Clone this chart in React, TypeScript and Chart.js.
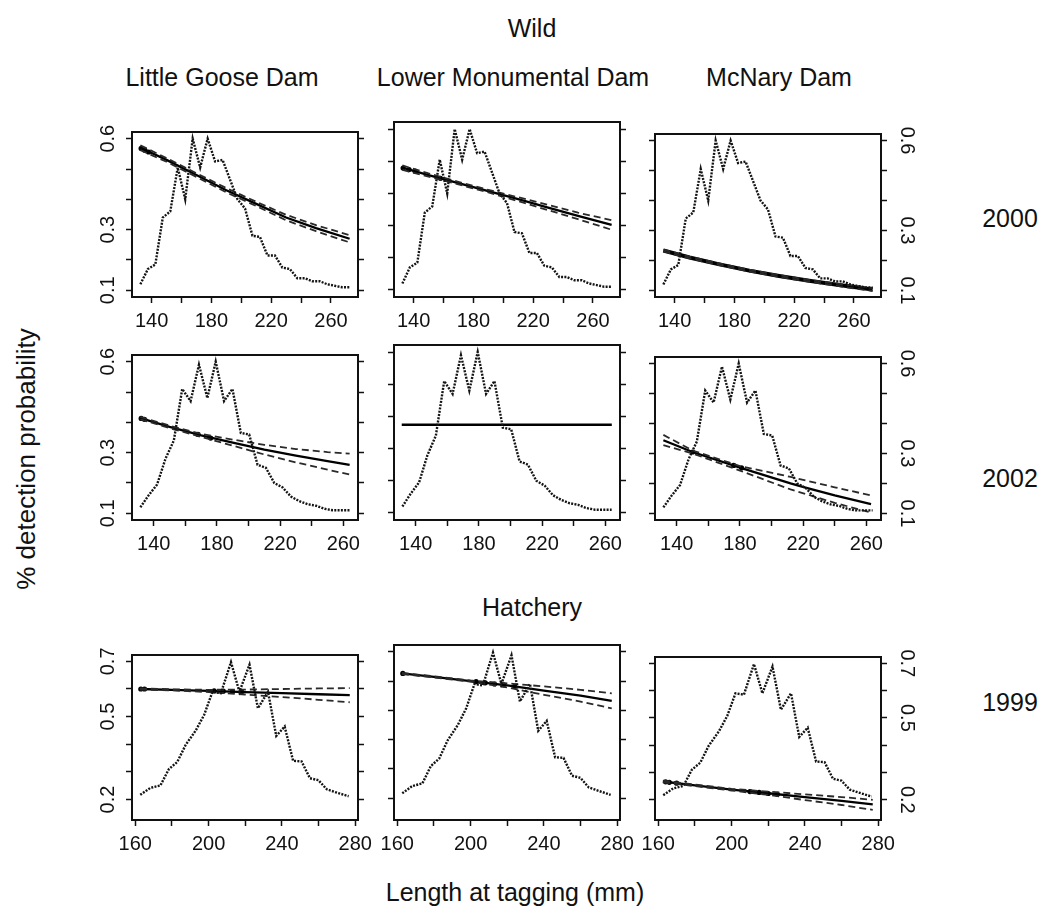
import React, { useEffect, useRef } from "react";
import { Chart, registerables } from "chart.js";
Chart.register(...registerables);

const FONT = '"Liberation Sans", Arial, Helvetica, sans-serif';

// ---------- data ----------
const DAMS = ["Little Goose Dam", "Lower Monumental Dam", "McNary Dam"];
const YEARS = ["2000", "2002", "1999"];

// length-frequency profiles (scaled to the panel's y axis)
const WILD2000_LEN = [132.5, 137.5, 142.5, 147.5, 152.5, 157.5, 162.5, 167.5, 172.5, 177.5, 182.5, 187.5, 192.5, 197.5, 202.5, 207.5, 212.5, 217.5, 222.5, 227.5, 232.5, 237.5, 242.5, 247.5, 252.5, 257.5, 262.5, 267.5, 272.5];
const WILD2000_FREQ = [0.12, 0.17, 0.185, 0.34, 0.36, 0.505, 0.4, 0.6, 0.505, 0.6, 0.525, 0.53, 0.465, 0.4, 0.37, 0.28, 0.276, 0.215, 0.215, 0.175, 0.17, 0.14, 0.14, 0.13, 0.13, 0.12, 0.115, 0.11, 0.11];

const WILD2002_LEN = [131.5, 136.8, 142.1, 147.4, 152.7, 158.0, 163.3, 168.6, 173.9, 179.2, 184.5, 189.8, 195.1, 200.4, 205.7, 211.0, 216.3, 221.6, 226.9, 232.2, 237.5, 242.8, 248.1, 253.4, 258.7, 264.0];
const WILD2002_FREQ = [0.12, 0.16, 0.195, 0.28, 0.34, 0.51, 0.47, 0.59, 0.48, 0.6, 0.47, 0.51, 0.365, 0.36, 0.26, 0.25, 0.2, 0.185, 0.155, 0.14, 0.13, 0.125, 0.115, 0.11, 0.11, 0.11];

const HATCH_LEN = [162.7, 168.2, 173.7, 178.3, 182.9, 187.5, 193.0, 197.6, 202.1, 206.7, 212.2, 216.8, 222.3, 226.9, 232.4, 236.9, 241.5, 246.1, 250.7, 255.3, 259.9, 264.5, 270.0, 276.4];
const HATCH_FREQ = [0.217, 0.242, 0.251, 0.31, 0.336, 0.398, 0.45, 0.507, 0.59, 0.585, 0.697, 0.59, 0.688, 0.53, 0.59, 0.43, 0.464, 0.34, 0.338, 0.277, 0.27, 0.237, 0.225, 0.212];

// fitted detection probability (solid) and confidence bounds (dashed)
const FIT2000_X = [132.5, 150, 170, 190, 210, 230, 250, 272.5];
const LGD2000_FIT = [0.57, 0.53, 0.48, 0.43, 0.385, 0.34, 0.305, 0.27];
const LGD2000_UP = [0.578, 0.536, 0.486, 0.437, 0.392, 0.349, 0.315, 0.282];
const LGD2000_LO = [0.562, 0.524, 0.474, 0.423, 0.378, 0.331, 0.295, 0.258];
const LMD2000_FIT = [0.48, 0.457, 0.432, 0.407, 0.382, 0.356, 0.33, 0.302];
const LMD2000_UP = [0.487, 0.462, 0.436, 0.411, 0.388, 0.364, 0.34, 0.317];
const LMD2000_LO = [0.473, 0.452, 0.428, 0.403, 0.376, 0.348, 0.32, 0.287];
const MCN2000_FIT = [0.233, 0.21, 0.187, 0.166, 0.148, 0.132, 0.118, 0.103];
const MCN2000_UP = [0.236, 0.213, 0.19, 0.169, 0.151, 0.135, 0.122, 0.108];
const MCN2000_LO = [0.23, 0.207, 0.184, 0.163, 0.145, 0.129, 0.114, 0.098];

const LGD2002_X = [131.5, 150, 170, 190, 210, 230, 250, 264];
const LGD2002_FIT = [0.414, 0.385, 0.357, 0.333, 0.31, 0.29, 0.272, 0.26];
const LGD2002_UP = [0.418, 0.389, 0.362, 0.343, 0.326, 0.312, 0.302, 0.297];
const LGD2002_LO = [0.41, 0.381, 0.352, 0.323, 0.294, 0.268, 0.244, 0.228];
const LMD2002_X = [131.1, 264.1];
const LMD2002_FIT = [0.374, 0.374];
const MCN2002_X = [131.5, 150, 180, 212, 221.5, 240, 263];
const MCN2002_FIT = [0.344, 0.305, 0.253, 0.2, 0.186, 0.16, 0.131];
const MCN2002_UP = [0.362, 0.31, 0.258, 0.222, 0.21, 0.187, 0.16];
const MCN2002_LO = [0.328, 0.3, 0.243, 0.18, 0.165, 0.135, 0.103];

const HATCH_X = [162.5, 180, 200, 220, 240, 260, 277];
const LGD1999_FIT = [0.6, 0.597, 0.593, 0.589, 0.585, 0.581, 0.578];
const LGD1999_UP = [0.602, 0.599, 0.597, 0.598, 0.6, 0.602, 0.603];
const LGD1999_LO = [0.598, 0.595, 0.589, 0.58, 0.571, 0.561, 0.552];
const LMD1999_FIT = [0.626, 0.614, 0.6, 0.585, 0.567, 0.55, 0.532];
const LMD1999_UP = [0.628, 0.616, 0.602, 0.592, 0.582, 0.57, 0.558];
const LMD1999_LO = [0.624, 0.612, 0.598, 0.578, 0.553, 0.53, 0.507];
const MCN1999_FIT = [0.267, 0.253, 0.237, 0.224, 0.21, 0.196, 0.183];
const MCN1999_UP = [0.27, 0.256, 0.24, 0.23, 0.22, 0.21, 0.2];
const MCN1999_LO = [0.264, 0.25, 0.234, 0.218, 0.199, 0.181, 0.163];

// observed estimates (bold dots on the fit)
const LGD2000_OBS_X = [133, 135.5, 138];
const LGD2000_OBS_Y = [0.568, 0.562, 0.556];
const LMD2000_OBS_X = [133, 137, 141, 158];
const LMD2000_OBS_Y = [0.479, 0.474, 0.469, 0.447];
const LGD2002_OBS_X = [132, 134, 168, 176];
const LGD2002_OBS_Y = [0.413, 0.41, 0.36, 0.348];
const MCN2002_OBS_X = [150, 176, 181];
const MCN2002_OBS_Y = [0.305, 0.26, 0.252];
const LGD1999_OBS_X = [163, 165, 203, 208, 213, 218];
const LGD1999_OBS_Y = [0.6, 0.6, 0.593, 0.592, 0.591, 0.59];
const LMD1999_OBS_X = [163, 203, 208, 213, 218, 224];
const LMD1999_OBS_Y = [0.626, 0.598, 0.594, 0.59, 0.587, 0.582];
const MCN1999_OBS_X = [164, 166, 170, 210, 215, 220, 225];
const MCN1999_OBS_Y = [0.266, 0.264, 0.261, 0.23, 0.227, 0.223, 0.22];

// axes
const WILD_X_TICKS = [140, 160, 180, 200, 220, 240, 260];
const WILD_X_LABELS = [140, 180, 220, 260];
const HATCH_X_TICKS = [160, 180, 200, 220, 240, 260, 280];
const HATCH_X_LABELS = [160, 200, 240, 280];
const WILD_Y_TICKS = [0.1, 0.2, 0.3, 0.4, 0.5, 0.6];
const WILD_Y_LABELS = [0.1, 0.3, 0.6];
const HATCH_Y_TICKS = [0.2, 0.3, 0.4, 0.5, 0.6, 0.7];
const HATCH_Y_LABELS = [0.2, 0.5, 0.7];

// ---------- layout ----------
const COLS = [[132, 358], [394, 620], [655, 881]];
const ROWS = [[122, 297], [345, 520], [645, 820]];
const PAD_L = 50, PAD_R = 50, PAD_T = 6, PAD_B = 46;

const pts = (xs: number[], ys: number[]) => xs.map((x, i) => ({ x, y: ys[i] }));

const dotted = (xs: number[], ys: number[]) => ({
  data: pts(xs, ys), borderColor: "#141414", borderWidth: 2.4, borderDash: [2, 1.3], pointRadius: 0, fill: false,
});
const dashed = (xs: number[], ys: number[]) => ({
  data: pts(xs, ys), borderColor: "#2a2a2a", borderWidth: 1.8, borderDash: [7, 4], pointRadius: 0, fill: false,
});
const solid = (xs: number[], ys: number[], w = 2.3) => ({
  data: pts(xs, ys), borderColor: "#000", borderWidth: w, pointRadius: 0, fill: false,
});
const dots = (xs: number[], ys: number[]) => ({
  data: pts(xs, ys), showLine: false, pointRadius: 2.6, pointBackgroundColor: "#000", pointBorderWidth: 0, borderColor: "#000",
});

const boxPlugin = {
  id: "box",
  afterDraw(chart: any) {
    const { ctx, chartArea } = chart;
    ctx.save();
    ctx.strokeStyle = "#111";
    ctx.lineWidth = 2;
    ctx.strokeRect(chartArea.left, chartArea.top, chartArea.right - chartArea.left, chartArea.bottom - chartArea.top);
    ctx.restore();
  },
};

type PanelProps = {
  row: number; col: number; datasets: any[];
  xMin: number; xMax: number; xTicks: number[]; xLabels: number[];
  yMin: number; yMax: number; yTicks: number[]; yLabels: number[];
};

function Panel(p: PanelProps) {
  const ref = useRef<HTMLCanvasElement>(null);
  const [bl, br] = COLS[p.col];
  const [bt, bb] = ROWS[p.row];
  const w = br - bl + PAD_L + PAD_R;
  const h = bb - bt + PAD_T + PAD_B;
  useEffect(() => {
    const grid = { drawOnChartArea: false, drawTicks: true, tickLength: 6, tickWidth: 1.5, tickColor: "#111" };
    const yAxis = (pos: string, showLabels: boolean, rot: number, pad: number, width: number) => ({
      type: "linear", position: pos, min: p.yMin, max: p.yMax,
      afterBuildTicks: (s: any) => { s.ticks = p.yTicks.map((v) => ({ value: v })); },
      afterFit: (s: any) => { s.width = width; },
      grid, border: { display: false },
      ticks: {
        display: showLabels, autoSkip: false, minRotation: rot, maxRotation: rot, crossAlign: "center", padding: pad,
        color: "#111", font: { family: FONT, size: 20 },
        callback: (v: number) => (p.yLabels.includes(v) ? String(v) : ""),
      },
    });
    const chart = new Chart(ref.current!, {
      type: "line",
      data: { datasets: p.datasets },
      plugins: [boxPlugin],
      options: {
        animation: false, responsive: false, maintainAspectRatio: false, events: [],
        layout: { padding: { top: PAD_T, left: 0, right: 0, bottom: 0 } },
        plugins: { legend: { display: false }, tooltip: { enabled: false }, title: { display: false } },
        scales: {
          x: {
            type: "linear", position: "bottom", min: p.xMin, max: p.xMax,
            afterBuildTicks: (s: any) => { s.ticks = p.xTicks.map((v) => ({ value: v })); },
            afterFit: (s: any) => { s.height = PAD_B; },
            grid, border: { display: false },
            ticks: {
              autoSkip: false, maxRotation: 0, minRotation: 0, padding: 6, color: "#111",
              font: { family: FONT, size: 20 },
              callback: (v: number) => (p.xLabels.includes(v) ? String(v) : ""),
            },
          },
          y: yAxis("left", p.col === 0, 90, 4, PAD_L) as any,
          y2: yAxis("right", p.col === 2, -90, 6, PAD_R) as any,
        },
      } as any,
    });
    return () => chart.destroy();
  }, []);
  return (
    <canvas
      ref={ref}
      width={w}
      height={h}
      style={{ position: "absolute", left: bl - PAD_L, top: bt - PAD_T, width: w, height: h }}
    />
  );
}

const Label = ({ x, y, text, size = 25, rotate = 0 }: { x: number; y: number; text: string; size?: number; rotate?: number }) => (
  <div
    style={{
      position: "absolute", left: x, top: y, transform: `translate(-50%, -50%) rotate(${rotate}deg)`,
      fontFamily: FONT, fontSize: size, lineHeight: 1, whiteSpace: "nowrap", color: "#111",
    }}
  >
    {text}
  </div>
);

export default function App() {
  const wild2000 = { xMin: 126.9, xMax: 278.1, xTicks: WILD_X_TICKS, xLabels: WILD_X_LABELS, yMin: 0.078, yMax: 0.622, yTicks: WILD_Y_TICKS, yLabels: WILD_Y_LABELS };
  const wild2002 = { xMin: 126.2, xMax: 269.3, xTicks: WILD_X_TICKS, xLabels: WILD_X_LABELS, yMin: 0.078, yMax: 0.622, yTicks: WILD_Y_TICKS, yLabels: WILD_Y_LABELS };
  const hatch = { xMin: 158.2, xMax: 281.5, xTicks: HATCH_X_TICKS, xLabels: HATCH_X_LABELS, yMin: 0.126, yMax: 0.723, yTicks: HATCH_Y_TICKS, yLabels: HATCH_Y_LABELS };

  const panels = [
    { row: 0, col: 0, ...wild2000, datasets: [dotted(WILD2000_LEN, WILD2000_FREQ), dashed(FIT2000_X, LGD2000_UP), dashed(FIT2000_X, LGD2000_LO), solid(FIT2000_X, LGD2000_FIT), dots(LGD2000_OBS_X, LGD2000_OBS_Y)] },
    { row: 0, col: 1, ...wild2000, datasets: [dotted(WILD2000_LEN, WILD2000_FREQ), dashed(FIT2000_X, LMD2000_UP), dashed(FIT2000_X, LMD2000_LO), solid(FIT2000_X, LMD2000_FIT), dots(LMD2000_OBS_X, LMD2000_OBS_Y)] },
    { row: 0, col: 2, ...wild2000, datasets: [dotted(WILD2000_LEN, WILD2000_FREQ), dashed(FIT2000_X, MCN2000_UP), dashed(FIT2000_X, MCN2000_LO), solid(FIT2000_X, MCN2000_FIT, 4)] },
    { row: 1, col: 0, ...wild2002, datasets: [dotted(WILD2002_LEN, WILD2002_FREQ), dashed(LGD2002_X, LGD2002_UP), dashed(LGD2002_X, LGD2002_LO), solid(LGD2002_X, LGD2002_FIT), dots(LGD2002_OBS_X, LGD2002_OBS_Y)] },
    { row: 1, col: 1, ...wild2002, datasets: [dotted(WILD2002_LEN, WILD2002_FREQ), solid(LMD2002_X, LMD2002_FIT, 2.4)] },
    { row: 1, col: 2, ...wild2002, datasets: [dotted(WILD2002_LEN, WILD2002_FREQ), dashed(MCN2002_X, MCN2002_UP), dashed(MCN2002_X, MCN2002_LO), solid(MCN2002_X, MCN2002_FIT), dots(MCN2002_OBS_X, MCN2002_OBS_Y)] },
    { row: 2, col: 0, ...hatch, datasets: [dotted(HATCH_LEN, HATCH_FREQ), dashed(HATCH_X, LGD1999_UP), dashed(HATCH_X, LGD1999_LO), solid(HATCH_X, LGD1999_FIT), dots(LGD1999_OBS_X, LGD1999_OBS_Y)] },
    { row: 2, col: 1, ...hatch, datasets: [dotted(HATCH_LEN, HATCH_FREQ), dashed(HATCH_X, LMD1999_UP), dashed(HATCH_X, LMD1999_LO), solid(HATCH_X, LMD1999_FIT), dots(LMD1999_OBS_X, LMD1999_OBS_Y)] },
    { row: 2, col: 2, ...hatch, datasets: [dotted(HATCH_LEN, HATCH_FREQ), dashed(HATCH_X, MCN1999_UP), dashed(HATCH_X, MCN1999_LO), solid(HATCH_X, MCN1999_FIT), dots(MCN1999_OBS_X, MCN1999_OBS_Y)] },
  ];

  return (
    <div style={{ position: "absolute", left: 0, top: 0, width: 1055, height: 907, background: "#fff", overflow: "hidden" }}>
      <Label x={532} y={28} text="Wild" />
      <Label x={222} y={77} text={DAMS[0]} />
      <Label x={513} y={77} text={DAMS[1]} />
      <Label x={779} y={77} text={DAMS[2]} />
      <Label x={1010} y={218} text={YEARS[0]} />
      <Label x={1010} y={478} text={YEARS[1]} />
      <Label x={1010} y={702} text={YEARS[2]} />
      <Label x={532} y={607} text="Hatchery" />
      <Label x={26} y={459} text="% detection probability" size={26} rotate={-90} />
      <Label x={515} y={892} text="Length at tagging (mm)" />
      {panels.map((pp, i) => (
        <Panel key={i} {...(pp as any)} />
      ))}
    </div>
  );
}
